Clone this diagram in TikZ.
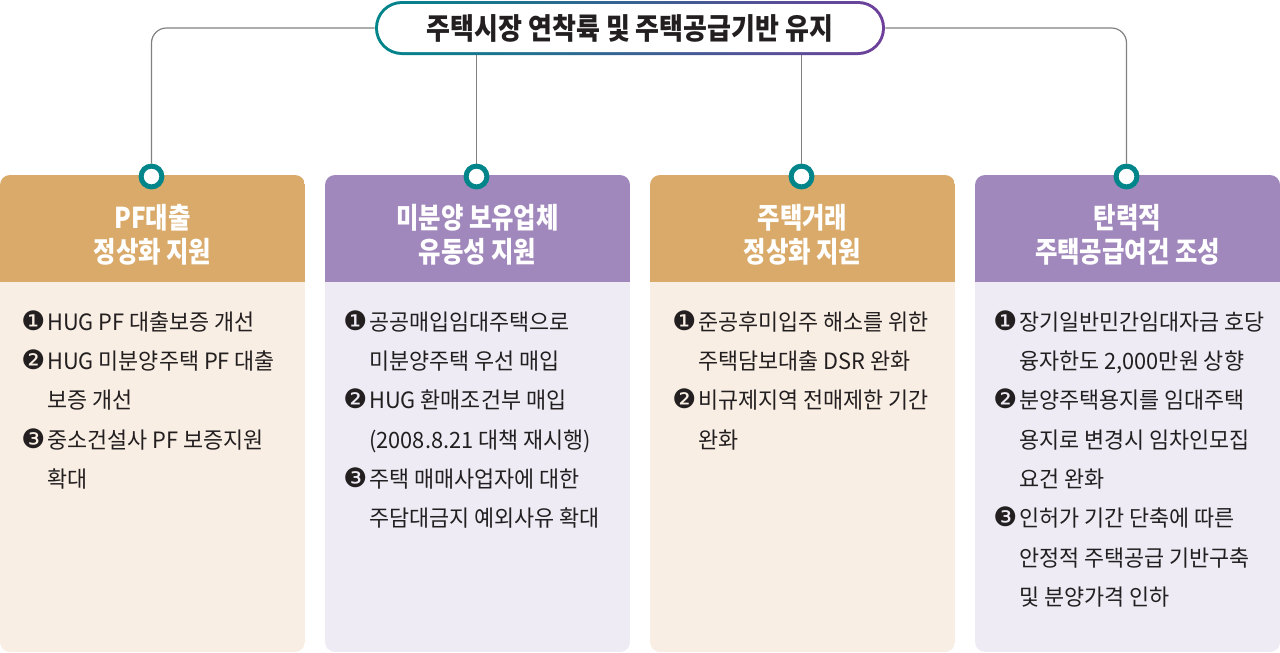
\documentclass[tikz,border=0pt]{standalone}
\usepackage{fontspec}
\setmainfont{Noto Sans CJK KR}
\newfontfamily\krtitle[FakeStretch=0.88]{Noto Sans CJK KR}
\newfontfamily\krhead[FakeStretch=0.85]{Noto Sans CJK KR}
\newfontfamily\krbody[FakeStretch=0.97]{Noto Sans CJK KR}
\newfontfamily\symfont{DejaVu Sans}
\usepackage{tikz}
\usetikzlibrary{positioning,calc}
\definecolor{hdTan}{RGB}{217,170,106}
\definecolor{hdPurple}{RGB}{161,136,188}
\definecolor{bdTan}{RGB}{248,238,227}
\definecolor{bdPurple}{RGB}{238,235,245}
\definecolor{ringTeal}{RGB}{0,133,138}
\definecolor{pillPurple}{RGB}{110,64,156}
\definecolor{lineGray}{RGB}{128,128,128}
\definecolor{txtDark}{RGB}{35,31,32}
\newcommand{\itm}[1]{\makebox[18.5pt][l]{\symfont\fontsize{19}{19}\selectfont #1}}
\newcommand{\cnt}{\hspace*{18.5pt}}

\begin{document}
\begin{tikzpicture}[x=0.25mm, y=-0.25mm,
  pill/.style={rounded corners=6.75mm, left color=ringTeal, right color=pillPurple,
    minimum width=127.5mm, minimum height=13.5mm, inner sep=0},
  titletext/.style={fill=white, rounded corners=6mm, minimum width=126mm,
    minimum height=12mm, inner sep=0, text=txtDark,
    font=\krtitle\bfseries\fontsize{21}{24}\selectfont},
  ring/.style={circle, draw=ringTeal, line width=1.25mm, fill=white,
    minimum size=5.2mm, inner sep=0},
  conn/.style={draw=lineGray, line width=0.3mm},
  hdtext/.style={text=white, align=center, inner sep=0,
    font=\krhead\bfseries\fontsize{20.4}{24.2}\selectfont},
  bdtext/.style={text=txtDark, align=left, anchor=north west, inner sep=0,
    font=\krbody\fontsize{16}{28}\selectfont}]
\useasboundingbox (0,0) rectangle (1280,652);
% columns
\foreach \c/\hd/\bd in {1/hdTan/bdTan, 2/hdPurple/bdPurple, 3/hdTan/bdTan, 4/hdPurple/bdPurple}{
  \pgfmathsetmacro{\xl}{(\c-1)*325}
  \begin{scope}
    \clip[rounded corners=2.5mm] (\xl,175) rectangle (\xl+305,652);
    \fill[\hd] (\xl,175) rectangle (\xl+305,282);
    \fill[\bd] (\xl,282) rectangle (\xl+305,652);
  \end{scope}
}
% title
\node[pill] (titlebg) at (630,28) {};
\node[titletext] (title) at (titlebg) {주택시장 연착륙 및 주택공급기반 유지};
% rings
\foreach \c in {1,...,4}{
  \node[ring] (r\c) at ({(\c-1)*325+151.5},176.5) {};
}
\draw[conn, rounded corners=3.75mm] (titlebg.west) -| (r1.north);
\draw[conn, rounded corners=3.75mm] (titlebg.east) -| (r4.north);
\draw[conn] (titlebg.south -| r2) -- (r2.north);
\draw[conn] (titlebg.south -| r3) -- (r3.north);
% headers
\node[hdtext] (h1) at (152.5,235) {PF대출\\정상화 지원};
\node[hdtext] (h2) at (477.5,235) {미분양 보유업체\\유동성 지원};
\node[hdtext] (h3) at (802.5,235) {주택거래\\정상화 지원};
\node[hdtext] (h4) at (1127.5,235) {탄력적\\주택공급여건 조성};
% bodies
\node[bdtext] (b1) at (21,310) {\itm{❶}HUG PF 대출보증 개선\\
  \itm{❷}HUG 미분양주택 PF 대출\\ \cnt 보증 개선\\
  \itm{❸}중소건설사 PF 보증지원\\ \cnt 확대};
\node[bdtext] (b2) at (343,310) {\itm{❶}공공매입임대주택으로\\ \cnt 미분양주택 우선 매입\\
  \itm{❷}HUG 환매조건부 매입\\ \cnt (2008.8.21 대책 재시행)\\
  \itm{❸}주택 매매사업자에 대한\\ \cnt 주담대금지 예외사유 확대};
\node[bdtext] (b3) at (672,310) {\itm{❶}준공후미입주 해소를 위한\\ \cnt 주택담보대출 DSR 완화\\
  \itm{❷}비규제지역 전매제한 기간\\ \cnt 완화};
\node[bdtext] (b4) at (993,310) {\itm{❶}장기일반민간임대자금 호당\\ \cnt 융자한도 2,000만원 상향\\
  \itm{❷}분양주택용지를 임대주택\\ \cnt 용지로 변경시 임차인모집\\ \cnt 요건 완화\\
  \itm{❸}인허가 기간 단축에 따른\\ \cnt 안정적 주택공급 기반구축\\ \cnt 및 분양가격 인하};
\end{tikzpicture}
\end{document}
